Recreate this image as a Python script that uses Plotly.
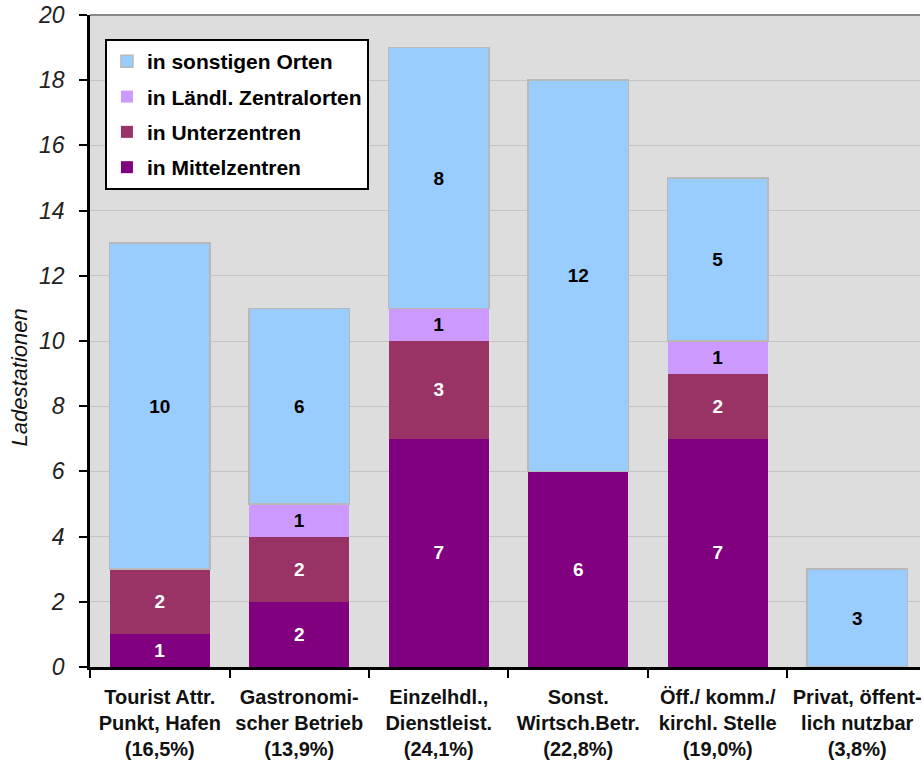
import plotly.graph_objects as go

categories = [
    "Tourist Attr.<br>Punkt, Hafen<br>(16,5%)",
    "Gastronomi-<br>scher Betrieb<br>(13,9%)",
    "Einzelhdl.,<br>Dienstleist.<br>(24,1%)",
    "Sonst.<br>Wirtsch.Betr.<br>(22,8%)",
    "Öff./ komm./<br>kirchl. Stelle<br>(19,0%)",
    "Privat, öffent-<br>lich nutzbar<br>(3,8%)",
]
mittelzentren = [1, 2, 7, 6, 7, 0]
unterzentren = [2, 2, 3, 0, 2, 0]
laendl_zentralorte = [0, 1, 1, 0, 1, 0]
sonstige_orte = [10, 6, 8, 12, 5, 3]

series = [
    ("in Mittelzentren", mittelzentren, "#800080", "white"),
    ("in Unterzentren", unterzentren, "#993366", "white"),
    ("in Ländl. Zentralorten", laendl_zentralorte, "#CC99FF", "black"),
    ("in sonstigen Orten", sonstige_orte, "#99CCFF", "black"),
]

FONT = "Liberation Sans Narrow, Arial Narrow, Liberation Sans, Arial, sans-serif"

fig = go.Figure()
for i, (name, vals, color, tcolor) in enumerate(series):
    fig.add_trace(go.Bar(
        x=categories,
        y=vals,
        name=name,
        legendgroup=name,
        legendrank=1000 - i,
        marker=dict(color=color, line=dict(color="#B8B8B8", width=1.5 if i == 3 else 0)),
        text=[str(v) if v else "" for v in vals],
        textposition="inside",
        insidetextanchor="middle",
        textangle=0,
        constraintext="none",
        textfont=dict(family=FONT, size=19, color=tcolor, weight="bold"),
        hoverinfo="skip",
    ))

fig.update_layout(
    width=922, height=765,
    barmode="stack",
    bargap=0.28,
    plot_bgcolor="#DDDDDD",
    paper_bgcolor="white",
    margin=dict(l=90, r=0, t=15, b=98),
    showlegend=True,
    legend=dict(
        x=0.018, y=0.963, xanchor="left", yanchor="top",
        traceorder="grouped", tracegroupgap=5,
        bgcolor="white", bordercolor="black", borderwidth=2,
        font=dict(family=FONT, size=21, color="black", weight="bold"),
    ),
    xaxis=dict(
        range=[-0.5, 5.45],
        showline=True, linecolor="black", linewidth=2.5,
        ticks="outside", tickson="boundaries", ticklen=8, tickwidth=2, tickcolor="black",
        ticklabelstandoff=10,
        tickfont=dict(family=FONT, size=20, color="#111111", weight="bold"),
        showgrid=False,
    ),
    yaxis=dict(
        range=[0, 20], dtick=2,
        showline=True, linecolor="black", linewidth=2.5,
        ticks="outside", ticklen=8, tickwidth=2, tickcolor="black",
        ticklabelstandoff=10,
        tickfont=dict(family="Liberation Sans, Arial, sans-serif", size=23, color="#222222", style="italic"),
        showgrid=True, gridcolor="#C4C4C4", gridwidth=1,
        zeroline=False,
    ),
    annotations=[dict(
        text="Ladestationen", textangle=-90,
        xref="paper", yref="paper",
        x=-0.085, y=(667 - 377) / 652, xanchor="center", yanchor="middle",
        showarrow=False,
        font=dict(family="Liberation Sans, Arial, sans-serif", size=22, color="#111111", style="italic"),
    )],
    shapes=[dict(type="line", xref="paper", yref="paper", x0=0, x1=1, y0=1, y1=1,
                 line=dict(color="#888888", width=2))],
)

fig.write_html("out.html")
